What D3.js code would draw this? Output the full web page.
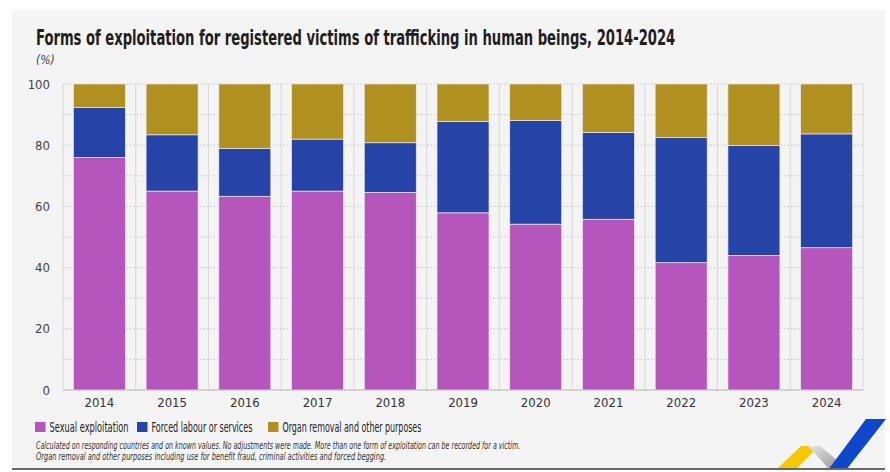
<!DOCTYPE html>
<html>
<head>
<meta charset="utf-8">
<script src="https://cdn.jsdelivr.net/npm/d3@7"></script>
<style>
  html, body { margin: 0; padding: 0; background: #ffffff; }
  svg { display: block; }
  text { font-family: "Liberation Sans Narrow", "DejaVu Sans Condensed", sans-serif; }
</style>
</head>
<body>
<svg id="chart" width="890" height="472"></svg>
<script>
const years = ["2014","2015","2016","2017","2018","2019","2020","2021","2022","2023","2024"];
const sexual = [76.0, 65.0, 63.3, 65.0, 64.6, 57.9, 54.2, 55.8, 41.6, 44.0, 46.5];
const forced = [16.3, 18.4, 15.6, 17.0, 16.2, 29.9, 33.9, 28.4, 40.9, 35.9, 37.2];
const organ  = [7.7, 16.6, 21.1, 18.0, 19.2, 12.2, 11.9, 15.8, 17.5, 20.1, 16.3];
const seriesNames = ["Sexual exploitation", "Forced labour or services", "Organ removal and other purposes"];
const seriesKeys = ["sexual", "forced", "organ"];
const seriesColors = ["#B656BD", "#2644A7", "#B09120"];
const yTicks = [0, 20, 40, 60, 80, 100];
const yGrid = [10, 20, 30, 40, 50, 60, 70, 80, 90, 100];
const titleText = "Forms of exploitation for registered victims of trafficking in human beings, 2014-2024";
const unitText = "(%)";
const noteLines = [
  "Calculated on responding countries and on known values. No adjustments were made. More than one form of exploitation can be recorded for a victim.",
  "Organ removal and other purposes including use for benefit fraud, criminal activities and forced begging."
];

const table = years.map((y, i) => ({ year: y, sexual: sexual[i], forced: forced[i], organ: organ[i] }));

const svg = d3.select("#chart");
const plot = { left: 63, right: 863, top: 84, bottom: 390 };

// place a text at (x,y) and squeeze it horizontally to a target width
function fitText(parent, str, x0, y0, target, attrs) {
  const t = parent.append("text").attr("x", 0).attr("y", 0).text(str);
  Object.entries(attrs).forEach(([k, v]) => t.attr(k, v));
  const w = t.node().getComputedTextLength();
  const s = Math.min(1, target / w);
  t.attr("transform", `translate(${x0},${y0}) scale(${s},1)`);
  return t;
}

// panel background
svg.append("rect").attr("x", 12).attr("y", 10).attr("width", 873).attr("height", 459).attr("fill", "#f4f4f4");

// title
fitText(svg, titleText, 36, 45, 640, { "font-size": 22, "font-weight": "bold", "fill": "#1e1e1e" });

svg.append("text").attr("x", 36).attr("y", 64)
  .attr("font-size", 12).attr("font-style", "italic").attr("fill", "#444")
  .text(unitText);

const x = d3.scaleBand().domain(years).range([plot.left, plot.right])
  .paddingInner(0.285).paddingOuter(0.1425);
const y = d3.scaleLinear().domain([0, 100]).range([plot.bottom, plot.top]);

// horizontal dotted gridlines
svg.append("g").selectAll("line").data(yGrid).join("line")
  .attr("x1", plot.left).attr("x2", plot.right)
  .attr("y1", d => y(d)).attr("y2", d => y(d))
  .attr("stroke", "#c4c4c4").attr("stroke-width", 1).attr("stroke-dasharray", "1.5,2");

// vertical separators
const step = x.step();
const seps = d3.range(years.length + 1).map(i => plot.left + i * step);
svg.append("g").selectAll("line").data(seps).join("line")
  .attr("x1", d => d).attr("x2", d => d)
  .attr("y1", plot.top).attr("y2", plot.bottom)
  .attr("stroke", "#d8d8d8").attr("stroke-width", 1);

// baseline
svg.append("line").attr("x1", plot.left).attr("x2", plot.right)
  .attr("y1", plot.bottom).attr("y2", plot.bottom)
  .attr("stroke", "#b0b0b0").attr("stroke-width", 1);

// stacked bars
const stack = d3.stack().keys(seriesKeys)(table);
svg.append("g").selectAll("g").data(stack).join("g")
  .attr("fill", (d, i) => seriesColors[i])
  .selectAll("rect").data(d => d).join("rect")
  .attr("x", d => x(d.data.year))
  .attr("width", x.bandwidth())
  .attr("y", d => y(d[1]))
  .attr("height", d => y(d[0]) - y(d[1]))
  .attr("stroke", "#ece8f2").attr("stroke-width", 0.7);

// y axis labels
const yAxis = d3.axisLeft(y).tickValues(yTicks).tickSize(0).tickPadding(0);
const ya = svg.append("g").attr("transform", `translate(50,0)`).call(yAxis);
ya.select(".domain").remove();
ya.selectAll("text").attr("font-size", 13).attr("fill", "#444")
  .attr("font-family", "'Liberation Sans Narrow', 'DejaVu Sans Condensed', sans-serif");

// x axis labels
const xAxis = d3.axisBottom(x).tickSize(0).tickPadding(0);
const xa = svg.append("g").attr("transform", `translate(0,${plot.bottom + 8})`).call(xAxis);
xa.select(".domain").remove();
xa.selectAll("text").attr("font-size", 13).attr("fill", "#333")
  .attr("font-family", "'Liberation Sans Narrow', 'DejaVu Sans Condensed', sans-serif");

// legend
const legendX = [35, 137, 268];
const legendW = [79, 101, 139];
const lg = svg.append("g");
seriesNames.forEach((name, i) => {
  lg.append("rect").attr("x", legendX[i]).attr("y", 422).attr("width", 10.5).attr("height", 10).attr("fill", seriesColors[i]);
  fitText(lg, name, legendX[i] + 14.5, 432, legendW[i], { "font-size": 14, "fill": "#222" });
});

// footnotes
fitText(svg, noteLines[0], 36, 449, 485, { "font-size": 10, "font-style": "italic", "fill": "#333" });
fitText(svg, noteLines[1], 36, 459.5, 351, { "font-size": 10, "font-style": "italic", "fill": "#333" });

// logo
const defs = svg.append("defs");
const gr = defs.append("linearGradient").attr("id", "gg").attr("x1", "0").attr("y1", "0").attr("x2", "1").attr("y2", "1");
gr.append("stop").attr("offset", "0").attr("stop-color", "#e6e6e6");
gr.append("stop").attr("offset", "1").attr("stop-color", "#8c8c8c");
svg.append("polygon").attr("points", "776,470 801,446 819,446 795,470").attr("fill", "#F6C800");
svg.append("polygon").attr("points", "808,446 820,446 849,470 830,470").attr("fill", "url(#gg)");
svg.append("polygon").attr("points", "866,419 886,419 846,470 828,470").attr("fill", "#0E47CB");

// bottom rule
svg.append("rect").attr("x", 12).attr("y", 468).attr("width", 873).attr("height", 2).attr("fill", "#6a6a6a");
</script>
</body>
</html>
